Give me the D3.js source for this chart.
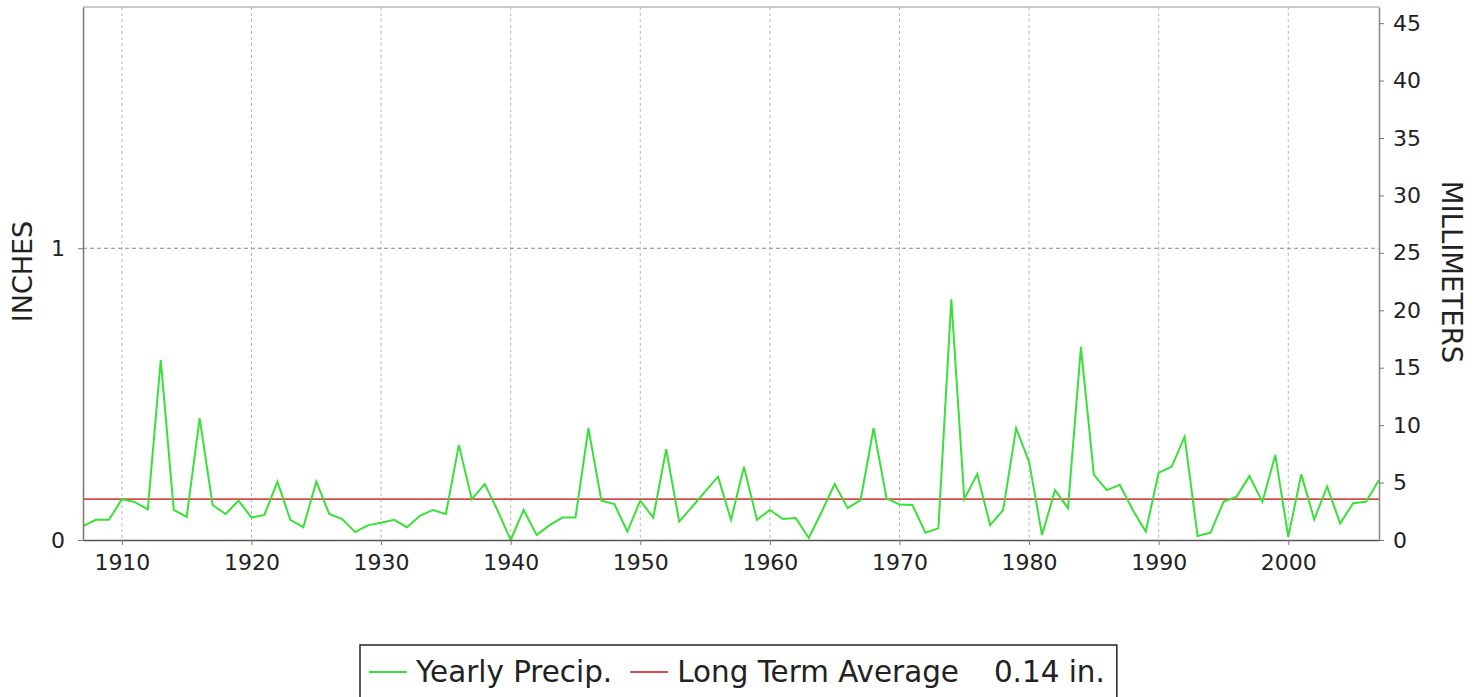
<!DOCTYPE html>
<html>
<head>
<meta charset="utf-8">
<script src="https://cdn.jsdelivr.net/npm/d3@7"></script>
<style>
  body { margin: 0; background: #fff; }
  text { font-family: "DejaVu Sans", sans-serif; fill: #222; }
</style>
</head>
<body>
<div id="container"></div>
<script>
var years = [
  1907, 1908, 1909, 1910, 1911, 1912, 1913, 1914, 1915, 1916,
  1917, 1918, 1919, 1920, 1921, 1922, 1923, 1924, 1925, 1926,
  1927, 1928, 1929, 1930, 1931, 1932, 1933, 1934, 1935, 1936,
  1937, 1938, 1939, 1940, 1941, 1942, 1943, 1944, 1945, 1946,
  1947, 1948, 1949, 1950, 1951, 1952, 1953, 1954, 1955, 1956,
  1957, 1958, 1959, 1960, 1961, 1962, 1963, 1964, 1965, 1966,
  1967, 1968, 1969, 1970, 1971, 1972, 1973, 1974, 1975, 1976,
  1977, 1978, 1979, 1980, 1981, 1982, 1983, 1984, 1985, 1986,
  1987, 1988, 1989, 1990, 1991, 1992, 1993, 1994, 1995, 1996,
  1997, 1998, 1999, 2000, 2001, 2002, 2003, 2004, 2005, 2006,
  2007
]

// yearly precipitation, inches
var precip = [
  0.048, 0.069, 0.069, 0.140, 0.130, 0.105, 0.617, 0.103, 0.079, 0.418,
  0.120, 0.089, 0.135, 0.077, 0.086, 0.200, 0.069, 0.044, 0.200, 0.089,
  0.072, 0.027, 0.051, 0.059, 0.069, 0.044, 0.083, 0.103, 0.089, 0.326,
  0.140, 0.192, 0.100, 0.000, 0.103, 0.017, 0.051, 0.077, 0.077, 0.383,
  0.135, 0.123, 0.029, 0.135, 0.077, 0.311, 0.063, 0.114, 0.166, 0.217,
  0.069, 0.251, 0.069, 0.103, 0.072, 0.075, 0.007, 0.097, 0.192, 0.109,
  0.137, 0.383, 0.143, 0.122, 0.120, 0.025, 0.040, 0.825, 0.140, 0.226,
  0.051, 0.103, 0.383, 0.268, 0.017, 0.171, 0.109, 0.661, 0.223, 0.171,
  0.189, 0.103, 0.029, 0.231, 0.251, 0.354, 0.014, 0.025, 0.131, 0.148,
  0.219, 0.131, 0.291, 0.011, 0.225, 0.071, 0.183, 0.057, 0.126, 0.131,
  0.206
]

var longTermAverage = 0.14
var yearTicks = [1910, 1920, 1930, 1940, 1950, 1960, 1970, 1980, 1990, 2000]
var inchTicks = [0, 1]
var mmTicks = [0, 5, 10, 15, 20, 25, 30, 35, 40, 45]
var legendLabels = ["Yearly Precip.", "Long Term Average", "0.14 in."]

var W = 1478, H = 697
var plot = { left: 83, right: 1379, top: 7, bottom: 540 }
var yMaxIn = 1.827
var MM_PER_IN = 25.4

var svg = d3.select('#container').append('svg')
  .attr('width', W)
  .attr('height', H)

var x = d3.scaleLinear().domain([1907, 2007]).range([plot.left, plot.right])
var yIn = d3.scaleLinear().domain([0, yMaxIn]).range([plot.bottom, plot.top])
var yMm = d3.scaleLinear().domain([0, yMaxIn * MM_PER_IN]).range([plot.bottom, plot.top])

// grid lines first so the series sit on top
var grid = svg.append('g').attr('class', 'grid')
grid.selectAll('.vgrid')
  .data(yearTicks)
  .enter().append('line')
  .attr('x1', d => x(d)).attr('x2', d => x(d))
  .attr('y1', plot.top).attr('y2', plot.bottom)
  .attr('stroke', '#b8b8b8')
  .attr('stroke-width', 1)
  .attr('stroke-dasharray', '3,3')

grid.selectAll('.hgrid')
  .data(inchTicks.filter(d => d > 0))
  .enter().append('line')
  .attr('x1', plot.left).attr('x2', plot.right)
  .attr('y1', d => yIn(d)).attr('y2', d => yIn(d))
  .attr('stroke', '#888')
  .attr('stroke-width', 1)
  .attr('stroke-dasharray', '4,3')

// top frame
svg.append('line')
  .attr('x1', plot.left).attr('x2', plot.right)
  .attr('y1', plot.top).attr('y2', plot.top)
  .attr('stroke', '#999')

svg.append('clipPath').attr('id', 'clip')
  .append('rect')
  .attr('x', plot.left).attr('y', plot.top)
  .attr('width', plot.right - plot.left)
  .attr('height', plot.bottom - plot.top)

var series = svg.append('g').attr('clip-path', 'url(#clip)')

series.append('line')
  .attr('x1', plot.left).attr('x2', plot.right)
  .attr('y1', yIn(longTermAverage)).attr('y2', yIn(longTermAverage))
  .attr('stroke', '#d94a4a')
  .attr('stroke-width', 1.6)

var line = d3.line()
  .x((d, i) => x(years[i]))
  .y(d => yIn(d))

series.append('path')
  .datum(precip)
  .attr('d', line)
  .attr('fill', 'none')
  .attr('stroke', '#3ae03a')
  .attr('stroke-width', 2)
  .attr('stroke-linejoin', 'miter')

// axes
function styleAxis(g, lineColor) {
  g.attr('font-family', '"DejaVu Sans", sans-serif')
    .attr('font-size', 22)
  g.select('.domain').attr('stroke', lineColor).attr('stroke-width', 1.5)
  g.selectAll('.tick line').attr('stroke', '#777')
  g.selectAll('.tick text').attr('fill', '#1a1a1a')
}

svg.append('g')
  .attr('transform', 'translate(0,' + plot.bottom + ')')
  .call(d3.axisBottom(x).tickValues(yearTicks).tickFormat(d3.format('d'))
    .tickSize(5).tickSizeOuter(0).tickPadding(9))
  .call(g => styleAxis(g, '#555'))

svg.append('g')
  .attr('transform', 'translate(' + plot.left + ',0)')
  .call(d3.axisLeft(yIn).tickValues(inchTicks).tickFormat(d3.format('d'))
    .tickSize(5).tickSizeOuter(0).tickPadding(13))
  .call(g => styleAxis(g, '#777'))

svg.append('g')
  .attr('transform', 'translate(' + plot.right + ',0)')
  .call(d3.axisRight(yMm).tickValues(mmTicks).tickFormat(d3.format('d'))
    .tickSize(5).tickSizeOuter(0).tickPadding(9))
  .call(g => styleAxis(g, '#888'))

// axis titles
svg.append('text')
  .attr('transform', 'translate(32,' + ((plot.top + plot.bottom) / 2 - 2) + ') rotate(-90)')
  .attr('text-anchor', 'middle')
  .attr('font-size', 27)
  .attr('fill', '#333')
  .text('INCHES')

svg.append('text')
  .attr('transform', 'translate(1442,' + 272 + ') rotate(90)')
  .attr('text-anchor', 'middle')
  .attr('font-size', 27.5)
  .attr('fill', '#333')
  .text('MILLIMETERS')

// legend
var legend = svg.append('g').attr('class', 'legend')
var box = legend.append('rect')
  .attr('fill', '#fff')
  .attr('stroke', '#222')
  .attr('stroke-width', 1.5)

var legendItems = [
  { label: legendLabels[0], color: '#3ae03a', lead: 9 },
  { label: legendLabels[1], color: '#d94a4a', lead: 18 },
  { label: legendLabels[2], color: null, lead: 35 }
]

var boxX = 360, cx = boxX, baseY = 682
legendItems.forEach(function (item) {
  cx += item.lead
  if (item.color) {
    legend.append('line')
      .attr('x1', cx).attr('x2', cx + 38)
      .attr('y1', baseY - 10).attr('y2', baseY - 10)
      .attr('stroke', item.color)
      .attr('stroke-width', 2)
    cx += 38 + 9
  }
  var t = legend.append('text')
    .attr('x', cx).attr('y', baseY)
    .attr('font-size', 29.4)
    .attr('fill', '#222')
    .text(item.label)
  cx += t.node().getComputedTextLength()
})

box.attr('x', boxX).attr('y', 645)
  .attr('width', cx + 12 - boxX)
  .attr('height', 60)
</script>
</body>
</html>
